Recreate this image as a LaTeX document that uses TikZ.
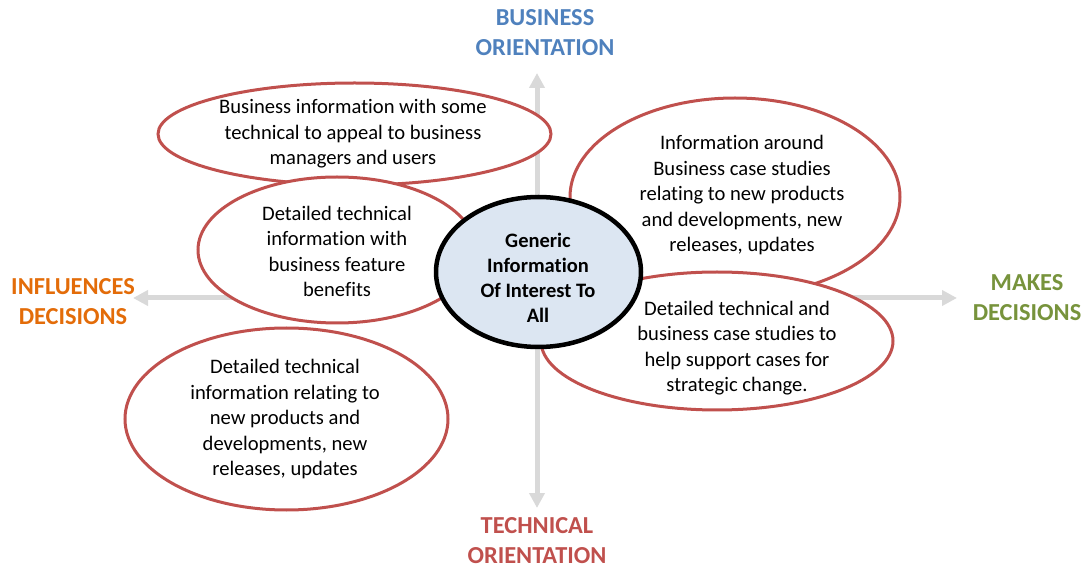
\documentclass[tikz,border=0pt]{standalone}
\usepackage{fontspec}
\setmainfont{Carlito}[Ligatures=NoCommon]
\usetikzlibrary{shapes.geometric,arrows.meta}
\definecolor{axisgray}{HTML}{D9D9D9}
\definecolor{bubblered}{HTML}{C0504D}
\definecolor{corefill}{HTML}{DCE6F2}
\definecolor{bizblue}{HTML}{4F81BD}
\definecolor{inforange}{HTML}{E36C09}
\definecolor{makegreen}{HTML}{77933C}
\definecolor{techred}{HTML}{C0504D}
\tikzset{
  axis/.style={draw=axisgray, line width=5pt, -{Triangle[length=15pt,width=15pt]}},
  bubble/.style={ellipse, draw=bubblered, line width=3pt, fill=white, inner sep=0pt},
  core/.style={ellipse, draw=black, line width=4.5pt, fill=corefill, inner sep=0pt},
  bubbletext/.style={align=center, font=\fontsize{20.6}{25.5}\selectfont, inner sep=0pt},
  coretext/.style={align=center, font=\fontsize{20.5}{25}\selectfont\bfseries, inner sep=0pt},
  pole/.style={align=center, font=\fontsize{24.4}{30}\selectfont\bfseries, inner sep=0pt}
}
\begin{document}
\begin{tikzpicture}[x=1pt,y=-1pt]
\useasboundingbox (0,0) rectangle (1088,569);

% axes
\coordinate (hub) at (537,298);
\coordinate (up) at (537,73);
\coordinate (down) at (537,508);
\coordinate (left) at (133,298);
\coordinate (right) at (957,298);
\draw[axis] (hub) -- (up);
\draw[axis] (hub) -- (down);
\draw[axis] (hub) -- (left);
\draw[axis] (hub) -- (right);

% pole labels
\node[pole, text=bizblue] (biz) at (545,33) {BUSINESS\\ORIENTATION};
\node[pole, text=techred] (tech) at (537,541) {TECHNICAL\\ORIENTATION};
\node[pole, text=inforange] (infl) at (73,302) {INFLUENCES\\DECISIONS};
\node[pole, text=makegreen] (make) at (1027,298) {MAKES\\DECISIONS};

% surrounding bubbles
\node[bubble, minimum width=393pt, minimum height=102pt] (tl) at (354.5,134) {};
\node[bubble, minimum width=278pt, minimum height=146pt] (ml) at (337,250) {};
\node[bubble, minimum width=330pt, minimum height=198pt] (ur) at (735,197) {};
\node[bubble, minimum width=352pt, minimum height=138pt] (lr) at (717,341) {};
\node[bubble, minimum width=323pt, minimum height=182pt] (bl) at (286.5,419) {};

\node[bubbletext] (tltext) at (353,134) {Business information with some\\technical to appeal to business\\managers and users};
\node[bubbletext] (mltext) at (337,251.5) {Detailed technical\\information with\\business feature\\benefits};
\node[bubbletext] (urtext) at (742,195.5) {Information around\\Business case studies\\relating to new products\\and developments, new\\releases, updates};
\node[bubbletext] (lrtext) at (737,348) {Detailed technical and\\business case studies to\\help support cases for\\strategic change.};
\node[bubbletext] (bltext) at (285,419.5) {Detailed technical\\information relating to\\new products and\\developments, new\\releases, updates};

% central bubble
\node[core, minimum width=205pt, minimum height=150pt] (centre) at (538.5,272) {};
\node[coretext] (centretext) at (538,277.5) {Generic\\Information\\Of Interest To\\All};
\end{tikzpicture}
\end{document}
